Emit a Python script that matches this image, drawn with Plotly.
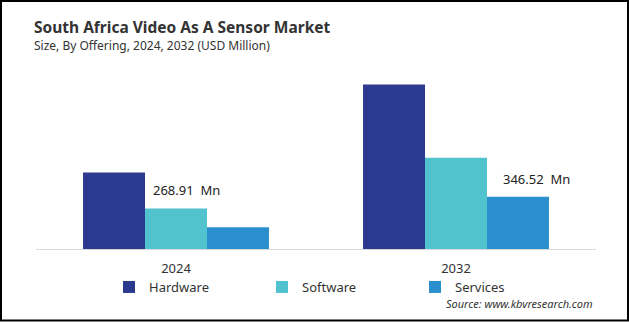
import plotly.graph_objects as go

years = ["2024", "2032"]
series = ["Hardware", "Software", "Services"]
hardware = [507, 1090]
software = [268.91, 605]
services = [144.5, 346.52]
colors = ["#2B398F", "#50C3CF", "#2A8FCD"]

W, H = 629, 322
L, R, T, B = 36, 33, 70, 73
pw, ph = W - L - R, H - T - B

fig = go.Figure()
for name, vals, c in zip(series, [hardware, software, services], colors):
    fig.add_trace(go.Bar(x=years, y=vals, name=name, marker=dict(color=c, line=dict(width=0))))

# value labels
fig.add_annotation(x=0, y=software[0], xref="x", yref="y", text=f"{software[0]:.2f}  Mn",
                   showarrow=False, yanchor="bottom", xshift=10, yshift=7,
                   font=dict(family="Noto Sans", size=13, color="#222"))
fig.add_annotation(x=1, y=services[1], xref="x", yref="y", text=f"{services[1]:.2f}  Mn",
                   showarrow=False, yanchor="bottom", xshift=80, yshift=7,
                   font=dict(family="Noto Sans", size=13, color="#222"))

def px_x(px):
    return (px - L) / pw

def px_y(py):
    return (H - B - py) / ph

# title & subtitle
fig.add_annotation(x=px_x(32), y=px_y(27), xref="paper", yref="paper",
                   text="<b>South Africa Video As A Sensor Market</b>", showarrow=False,
                   xanchor="left", yanchor="middle",
                   font=dict(family="Noto Sans", size=15.5, color="#333"))
fig.add_annotation(x=px_x(32), y=px_y(46), xref="paper", yref="paper",
                   text="Size, By Offering, 2024, 2032 (USD Million)", showarrow=False,
                   xanchor="left", yanchor="middle",
                   font=dict(family="Noto Sans", size=12, color="#333"))

# source
fig.add_annotation(x=px_x(595), y=px_y(303), xref="paper", yref="paper",
                   text="<i>Source: www.kbvresearch.com</i>",
                   showarrow=False, xanchor="right", yanchor="middle",
                   font=dict(family="Noto Sans", size=11, color="#333"))

# outer frame
fig.add_shape(type="rect", xref="paper", yref="paper",
              x0=px_x(1), x1=px_x(W - 1), y0=px_y(H - 1.5), y1=px_y(1),
              line=dict(color="black", width=2), fillcolor="rgba(0,0,0,0)")

fig.update_layout(
    width=W, height=H,
    margin=dict(l=L, r=R, t=T, b=B),
    paper_bgcolor="white", plot_bgcolor="white",
    barmode="group", bargap=0.336, bargroupgap=0,
    xaxis=dict(type="category", categoryorder="array", categoryarray=years,
               range=[-0.5, len(years) - 0.5], autorange=False,
               showline=True, linecolor="#d9d9d9", linewidth=1, ticks="outside", ticklen=7,
               tickcolor="white", tickfont=dict(family="Noto Sans", size=13, color="#333"),
               showgrid=False),
    yaxis=dict(visible=False, range=[0, ph * 6.63], autorange=False),
    legend=dict(orientation="h", x=px_x(109), xanchor="left", y=px_y(287), yanchor="middle",
                font=dict(family="Noto Sans", size=13, color="#333"),
                entrywidth=108, entrywidthmode="pixels", itemwidth=30,
                bgcolor="rgba(0,0,0,0)"),
    showlegend=True,
)

fig.write_html("out.html")
